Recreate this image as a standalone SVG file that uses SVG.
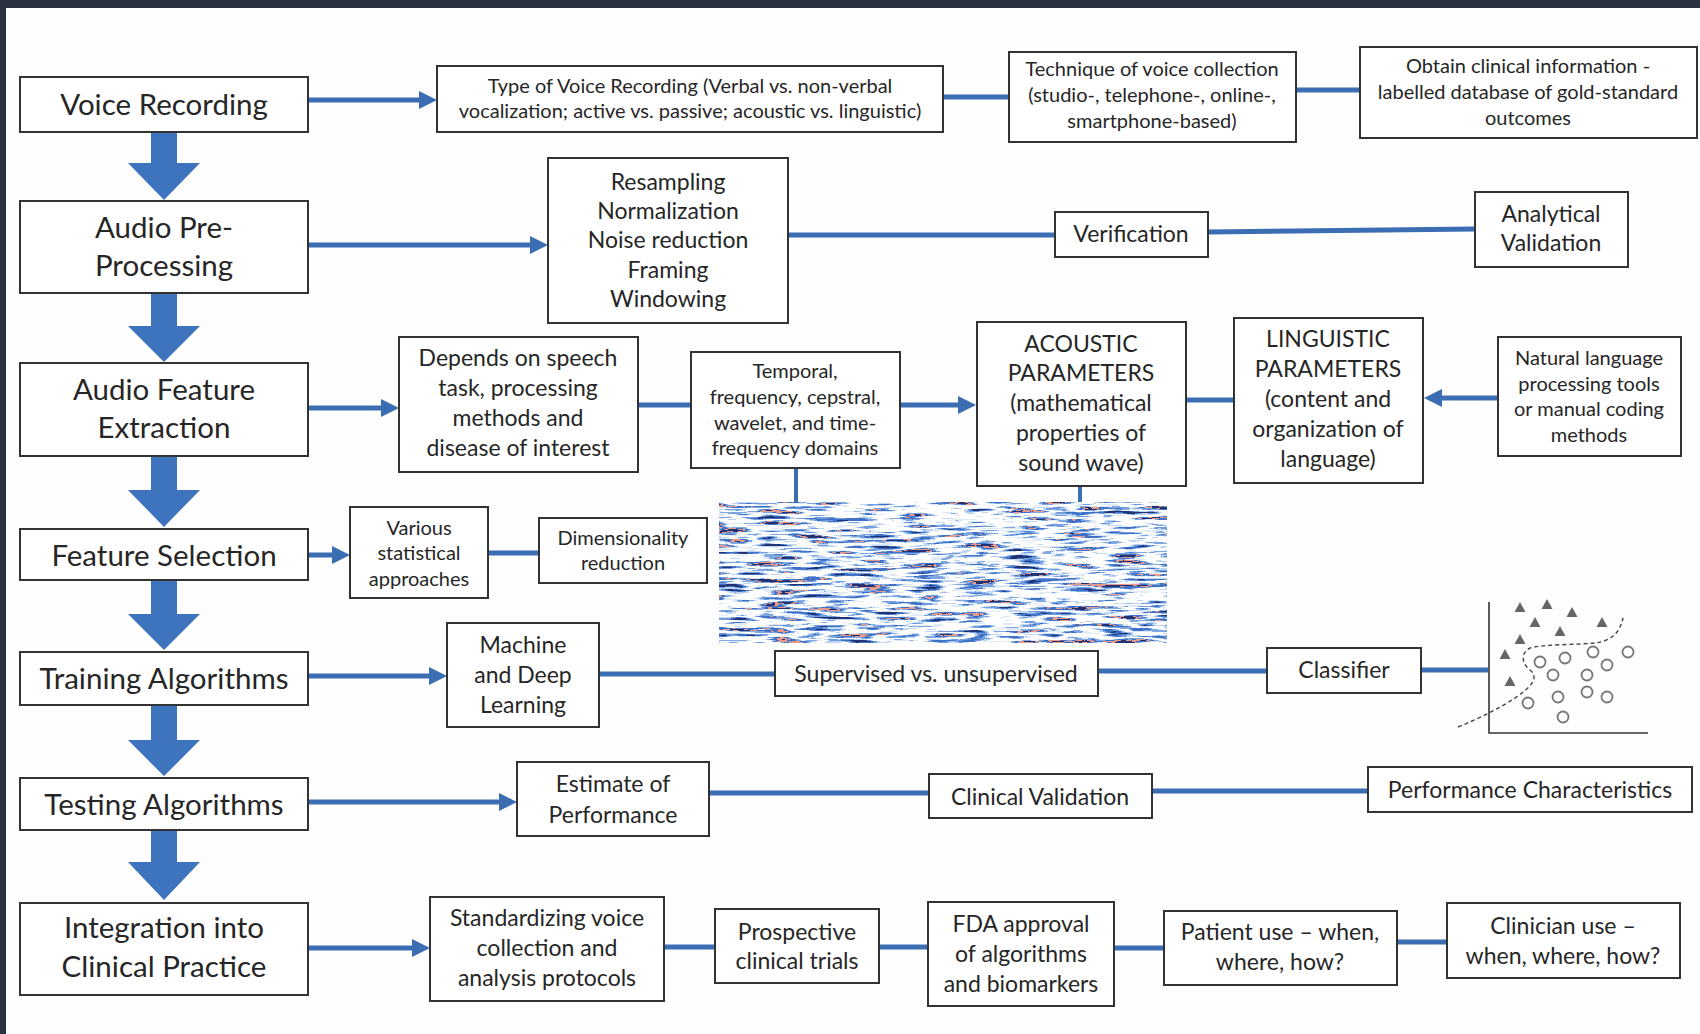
<svg xmlns="http://www.w3.org/2000/svg" width="1700" height="1034" viewBox="0 0 1700 1034">
<defs>
<style>
.box{fill:#fff;stroke:#333;stroke-width:2}
.t{font-family:Lato,'Liberation Sans',sans-serif;fill:#262626;text-anchor:middle}
.big{font-size:29.5px}
.mid{font-size:23px}
.sm{font-size:20px}
.conn{stroke:#3b6db3;stroke-width:5;fill:none}
.thin{stroke:#3b6db3;stroke-width:4;fill:none}
.down{fill:#3e74bd}
.axis{stroke:#333;stroke-width:1.6;fill:none}
.tri{fill:#666}
.cir{fill:none;stroke:#777;stroke-width:1.8}
</style>
<marker id="ah" markerUnits="userSpaceOnUse" markerWidth="20" markerHeight="18" refX="8" refY="9" orient="auto"><path d="M0,0 L18,9 L0,18 Z" fill="#3b6db3"/></marker>
<filter id="specF" x="0" y="0" width="1" height="1" filterUnits="objectBoundingBox" color-interpolation-filters="sRGB">
<feTurbulence type="fractalNoise" baseFrequency="0.02 0.18" numOctaves="3" seed="11" result="n"/>
<feColorMatrix in="n" type="matrix" values="1 0 0 0 0 1 0 0 0 0 1 0 0 0 0 0 0 0 0 1" result="g"/>
<feComponentTransfer in="g">
<feFuncR type="discrete" tableValues="0.14 0.14 0.14 0.14 0.14 0.25 0.45 0.75 1 1 1 0.88 0.5 0.25 0.9 0.14 0.14 0.14 0.14 0.14"/>
<feFuncG type="discrete" tableValues="0.2 0.2 0.2 0.2 0.2 0.45 0.62 0.84 1 1 1 0.92 0.66 0.45 0.6 0.2 0.2 0.2 0.2 0.2"/>
<feFuncB type="discrete" tableValues="0.45 0.45 0.45 0.45 0.45 0.78 0.88 0.95 1 1 1 0.97 0.88 0.78 0.55 0.45 0.45 0.45 0.45 0.45"/>
</feComponentTransfer>
</filter>
</defs>
<rect x="0" y="0" width="1700" height="1034" fill="#fefefe"/>
<rect x="0" y="0" width="1700" height="8" fill="#2c3140"/>
<rect x="0" y="0" width="6" height="1034" fill="#2c3140"/>

<g id="connectors">
<line class="conn" x1="308" y1="100" x2="427" y2="100" marker-end="url(#ah)"/>
<line class="conn" x1="943" y1="97" x2="1009" y2="97"/>
<line class="conn" x1="1296" y1="90" x2="1360" y2="90"/>
<line class="conn" x1="308" y1="245" x2="538" y2="245" marker-end="url(#ah)"/>
<line class="conn" x1="788" y1="235" x2="1055" y2="235"/>
<line class="conn" x1="1208" y1="232" x2="1475" y2="229"/>
<line class="conn" x1="308" y1="408" x2="389" y2="408" marker-end="url(#ah)"/>
<line class="conn" x1="638" y1="405" x2="691" y2="405"/>
<line class="conn" x1="900" y1="405" x2="966" y2="405" marker-end="url(#ah)"/>
<line class="conn" x1="1186" y1="400" x2="1234" y2="400"/>
<line class="conn" x1="1498" y1="398" x2="1434" y2="398" marker-end="url(#ah)"/>
<line class="thin" x1="796" y1="468" x2="796" y2="502"/>
<line class="thin" x1="1080" y1="486" x2="1080" y2="502"/>
<line class="conn" x1="308" y1="555" x2="340" y2="555" marker-end="url(#ah)"/>
<line class="conn" x1="488" y1="553" x2="539" y2="553"/>
<line class="conn" x1="308" y1="676" x2="437" y2="676" marker-end="url(#ah)"/>
<line class="conn" x1="599" y1="674" x2="775" y2="674"/>
<line class="conn" x1="1098" y1="671" x2="1267" y2="671"/>
<line class="conn" x1="1421" y1="670" x2="1488" y2="670"/>
<line class="conn" x1="308" y1="802" x2="507" y2="802" marker-end="url(#ah)"/>
<line class="conn" x1="709" y1="793" x2="929" y2="793"/>
<line class="conn" x1="1152" y1="791" x2="1368" y2="791"/>
<line class="conn" x1="308" y1="948" x2="420" y2="948" marker-end="url(#ah)"/>
<line class="conn" x1="664" y1="947" x2="715" y2="947"/>
<line class="conn" x1="879" y1="947" x2="928" y2="947"/>
<line class="conn" x1="1114" y1="948" x2="1164" y2="948"/>
<line class="conn" x1="1397" y1="942" x2="1447" y2="942"/>
<polygon class="down" points="151,132 177,132 177,163 200,163 164,200 128,163 151,163"/>
<polygon class="down" points="151,293 177,293 177,326 200,326 164,362 128,326 151,326"/>
<polygon class="down" points="151,456 177,456 177,490 200,490 164,527 128,490 151,490"/>
<polygon class="down" points="151,580 177,580 177,614 200,614 164,650 128,614 151,614"/>
<polygon class="down" points="151,705 177,705 177,740 200,740 164,776 128,740 151,740"/>
<polygon class="down" points="151,830 177,830 177,862 200,862 164,900 128,862 151,862"/>
</g>

<g id="voice-recording"><rect class="box" x="20" y="77" width="288" height="55"/><text class="t big" x="164" y="115">Voice Recording</text></g>
<g id="audio-preprocessing"><rect class="box" x="20" y="201" width="288" height="92"/><text class="t big" x="164" y="238">Audio Pre-</text><text class="t big" x="164" y="276">Processing</text></g>
<g id="audio-feature-extraction"><rect class="box" x="20" y="363" width="288" height="93"/><text class="t big" x="164" y="400">Audio Feature</text><text class="t big" x="164" y="438">Extraction</text></g>
<g id="feature-selection"><rect class="box" x="20" y="529" width="288" height="51"/><text class="t big" x="164" y="566">Feature Selection</text></g>
<g id="training-algorithms"><rect class="box" x="20" y="652" width="288" height="53"/><text class="t big" x="164" y="689">Training Algorithms</text></g>
<g id="testing-algorithms"><rect class="box" x="20" y="778" width="288" height="52"/><text class="t big" x="164" y="815">Testing Algorithms</text></g>
<g id="integration"><rect class="box" x="20" y="903" width="288" height="92"/><text class="t big" x="164" y="938">Integration into</text><text class="t big" x="164" y="977">Clinical Practice</text></g>

<g id="type-of-recording"><rect class="box" x="437" y="66" width="506" height="66"/><text class="t sm" x="690" y="93">Type of Voice Recording (Verbal vs. non-verbal</text><text class="t sm" x="690" y="118">vocalization; active vs. passive; acoustic vs. linguistic)</text></g>
<g id="technique"><rect class="box" x="1009" y="52" width="287" height="90"/><text class="t sm" x="1152" y="76">Technique of voice collection</text><text class="t sm" x="1152" y="102">(studio-, telephone-, online-,</text><text class="t sm" x="1152" y="128">smartphone-based)</text></g>
<g id="obtain-clinical"><rect class="box" x="1360" y="47" width="337" height="91"/><text class="t sm" x="1528" y="73">Obtain clinical information -</text><text class="t sm" x="1528" y="99">labelled database of gold-standard</text><text class="t sm" x="1528" y="125">outcomes</text></g>

<g id="resampling"><rect class="box" x="548" y="158" width="240" height="165"/><text class="t mid" x="668" y="190">Resampling</text><text class="t mid" x="668" y="219">Normalization</text><text class="t mid" x="668" y="248">Noise reduction</text><text class="t mid" x="668" y="278">Framing</text><text class="t mid" x="668" y="307">Windowing</text></g>
<g id="verification"><rect class="box" x="1055" y="212" width="153" height="45"/><text class="t mid" x="1131" y="242">Verification</text></g>
<g id="analytical-validation"><rect class="box" x="1475" y="192" width="153" height="75"/><text class="t mid" x="1551" y="222">Analytical</text><text class="t mid" x="1551" y="251">Validation</text></g>

<g id="depends"><rect class="box" x="399" y="337" width="239" height="135"/><text class="t mid" x="518" y="366">Depends on speech</text><text class="t mid" x="518" y="396">task, processing</text><text class="t mid" x="518" y="426">methods and</text><text class="t mid" x="518" y="456">disease of interest</text></g>
<g id="temporal"><rect class="box" x="691" y="352" width="209" height="116"/><text class="t sm" x="795" y="378">Temporal,</text><text class="t sm" x="795" y="404">frequency, cepstral,</text><text class="t sm" x="795" y="430">wavelet, and time-</text><text class="t sm" x="795" y="455">frequency domains</text></g>
<g id="acoustic"><rect class="box" x="977" y="322" width="209" height="164"/><text class="t mid" x="1081" y="352">ACOUSTIC</text><text class="t mid" x="1081" y="381">PARAMETERS</text><text class="t mid" x="1081" y="411">(mathematical</text><text class="t mid" x="1081" y="441">properties of</text><text class="t mid" x="1081" y="471">sound wave)</text></g>
<g id="linguistic"><rect class="box" x="1234" y="318" width="189" height="165"/><text class="t mid" x="1328" y="347">LINGUISTIC</text><text class="t mid" x="1328" y="377">PARAMETERS</text><text class="t mid" x="1328" y="407">(content and</text><text class="t mid" x="1328" y="437">organization of</text><text class="t mid" x="1328" y="467">language)</text></g>
<g id="natural-language"><rect class="box" x="1498" y="337" width="183" height="119"/><text class="t sm" x="1589" y="365">Natural language</text><text class="t sm" x="1589" y="391">processing tools</text><text class="t sm" x="1589" y="416">or manual coding</text><text class="t sm" x="1589" y="442">methods</text></g>

<g id="various"><rect class="box" x="350" y="507" width="138" height="91"/><text class="t sm" x="419" y="535">Various</text><text class="t sm" x="419" y="560">statistical</text><text class="t sm" x="419" y="586">approaches</text></g>
<g id="dimensionality"><rect class="box" x="539" y="518" width="168" height="65"/><text class="t sm" x="623" y="545">Dimensionality</text><text class="t sm" x="623" y="570">reduction</text></g>
<g id="spectrogram"><rect x="719" y="502" width="448" height="141" fill="#fff" filter="url(#specF)"/></g>

<g id="machine-learning"><rect class="box" x="447" y="623" width="152" height="104"/><text class="t mid" x="523" y="653">Machine</text><text class="t mid" x="523" y="683">and Deep</text><text class="t mid" x="523" y="713">Learning</text></g>
<g id="supervised"><rect class="box" x="775" y="651" width="323" height="45"/><text class="t mid" x="936" y="682">Supervised vs. unsupervised</text></g>
<g id="classifier"><rect class="box" x="1267" y="648" width="154" height="45"/><text class="t mid" x="1344" y="678">Classifier</text></g>
<g id="scatter-plot">
<path class="axis" d="M1489,602 L1489,733 L1648,733"/>
<path d="M1458,727 C1480,718 1500,708 1515,698 C1530,688 1540,678 1530,670 C1520,662 1522,652 1530,648 C1545,644 1575,645 1595,643 C1612,641 1620,632 1623,618" fill="none" stroke="#444" stroke-width="1.4" stroke-dasharray="4,3"/>
<g class="tri">
<path d="M1520,602 l5.5,10 h-11 z"/><path d="M1547,599 l5.5,10 h-11 z"/><path d="M1572,607 l5.5,10 h-11 z"/><path d="M1535,617 l5.5,10 h-11 z"/><path d="M1560,626 l5.5,10 h-11 z"/><path d="M1602,617 l5.5,10 h-11 z"/><path d="M1520,634 l5.5,10 h-11 z"/><path d="M1505,649 l5.5,10 h-11 z"/><path d="M1510,676 l5.5,10 h-11 z"/>
</g>
<g class="cir">
<circle cx="1540" cy="662" r="5.5"/><circle cx="1565" cy="658" r="5.5"/><circle cx="1593" cy="652" r="5.5"/><circle cx="1628" cy="652" r="5.5"/><circle cx="1607" cy="665" r="5.5"/><circle cx="1553" cy="675" r="5.5"/><circle cx="1587" cy="675" r="5.5"/><circle cx="1558" cy="697" r="5.5"/><circle cx="1587" cy="692" r="5.5"/><circle cx="1607" cy="697" r="5.5"/><circle cx="1528" cy="703" r="5.5"/><circle cx="1563" cy="717" r="5.5"/>
</g>
</g>

<g id="estimate"><rect class="box" x="517" y="762" width="192" height="74"/><text class="t mid" x="613" y="792">Estimate of</text><text class="t mid" x="613" y="823">Performance</text></g>
<g id="clinical-validation"><rect class="box" x="929" y="774" width="223" height="44"/><text class="t mid" x="1040" y="805">Clinical Validation</text></g>
<g id="performance-characteristics"><rect class="box" x="1368" y="767" width="324" height="45"/><text class="t mid" x="1530" y="798">Performance Characteristics</text></g>

<g id="standardizing"><rect class="box" x="430" y="897" width="234" height="104"/><text class="t mid" x="547" y="926">Standardizing voice</text><text class="t mid" x="547" y="956">collection and</text><text class="t mid" x="547" y="986">analysis protocols</text></g>
<g id="prospective"><rect class="box" x="715" y="909" width="164" height="74"/><text class="t mid" x="797" y="940">Prospective</text><text class="t mid" x="797" y="969">clinical trials</text></g>
<g id="fda"><rect class="box" x="928" y="902" width="186" height="104"/><text class="t mid" x="1021" y="932">FDA approval</text><text class="t mid" x="1021" y="962">of algorithms</text><text class="t mid" x="1021" y="992">and biomarkers</text></g>
<g id="patient-use"><rect class="box" x="1164" y="911" width="233" height="74"/><text class="t mid" x="1280" y="940">Patient use – when,</text><text class="t mid" x="1280" y="970">where, how?</text></g>
<g id="clinician-use"><rect class="box" x="1447" y="903" width="233" height="75"/><text class="t mid" x="1563" y="934">Clinician use –</text><text class="t mid" x="1563" y="964">when, where, how?</text></g>
</svg>
